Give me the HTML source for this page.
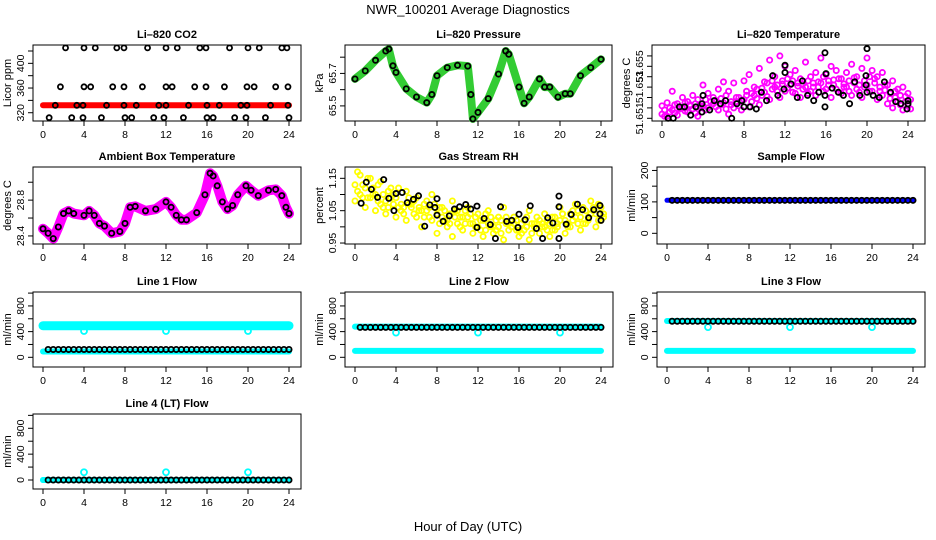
<!DOCTYPE html>
<html><head><meta charset="utf-8"><style>
html,body{margin:0;padding:0;background:#fff;}
svg{display:block;font-family:"Liberation Sans",sans-serif;}
</style></head><body>
<svg id="chart" width="936" height="540" viewBox="0 0 936 540" xmlns="http://www.w3.org/2000/svg">
<text x="468" y="14" text-anchor="middle" font-size="13">NWR_100201  Average Diagnostics</text>
<text x="468" y="531" text-anchor="middle" font-size="13">Hour of Day (UTC)</text>
</svg>
<script>
// ---------- data ----------
const xTicks = [0,4,8,12,16,20,24];
// CO2
const co2Band = 332;
const co2T425 = [2.2,4,5.1,7.2,7.9,10.2,12,13.1,15.3,15.9,18.2,20,21.1,23.3,23.8];
const co2T362 = [1.7,4,4.65,6.8,7.9,9.7,12,12.6,14.8,15.9,17.7,19.9,20.6,22.7,23.9];
const co2T332 = [1.2,3.3,3.9,6.2,7.9,9.1,11.3,12,14.2,16,17.2,19.3,19.9,22.2,23.9];
const co2T312 = [0.6,2.8,3.9,5.7,8,8.65,10.8,11.8,13.7,16,16.6,18.7,19.8,21.7,24];
const co2Levels = [425,362,332,312];
// Pressure
const presT = [0,1,2,3,3.3,3.7,4,5,6,7,7.5,8,9,10,11,11.3,11.5,12,13,14,14.7,15,16,16.5,17,18,18.5,19,19.8,20.5,21,22,23,24];
const presV = [65.666,65.716,65.781,65.838,65.85,65.747,65.706,65.605,65.555,65.52,65.57,65.686,65.736,65.75,65.745,65.57,65.42,65.46,65.545,65.696,65.838,65.818,65.616,65.516,65.555,65.666,65.616,65.616,65.555,65.575,65.575,65.686,65.736,65.787];
// Li-820 temperature (tick units)
const tempGridT = [0,0.5,1,1.5,2,2.5,3,3.5,4,4.5,5,5.5,6,6.5,7,7.5,8,8.5,9,9.5,10,10.5,11,11.5,12,12.5,13,13.5,14,14.5,15,15.5,16,16.5,17,17.5,18,18.5,19,19.5,20,20.5,21,21.5,22,22.5,23,23.5,24];
const tempMagA = [1.2,1.5,2.6,1.4,2.0,1.6,2.2,1.8,3.2,2.4,2.0,2.8,3.5,2.6,3.4,2.0,3.6,4.2,3.0,4.8,3.5,5.6,4.0,6.0,5.0,4.2,4.6,3.8,5.4,4.0,4.4,5.8,4.2,5.0,4.6,3.8,4.4,5.2,4.0,4.8,5.8,4.6,4.0,4.4,3.2,3.6,2.8,3.0,2.4];
const tempMagB = [0.4,0.2,0.8,0.3,1.0,0.6,0.9,0.2,1.2,1.0,1.4,0.8,1.5,0.4,1.0,1.2,1.8,1.1,2.2,1.3,2.5,1.8,3.0,2.0,2.6,3.2,2.4,2.0,3.0,2.6,2.2,3.4,2.8,2.0,2.8,2.4,3.0,2.2,2.8,2.0,3.2,2.6,1.8,2.2,1.4,1.0,1.6,0.8,1.2];
const tempMagC = [0.8,1.0,1.3,0.9,1.5,1.2,1.4,1.0,1.8,1.6,1.7,1.3,2.2,1.6,2.0,1.7,2.6,2.4,2.8,2.2,3.4,2.8,3.2,3.6,3.8,3.6,3.4,2.8,3.6,3.4,3.0,4.0,3.6,3.2,3.8,3.0,3.6,3.4,3.2,3.0,4.0,3.8,3.0,3.2,2.4,2.0,2.2,1.6,1.8];
const tempMagD = [0.2,0.6,0.5,1.1,0.7,1.3,0.5,1.2,0.8,1.6,1.1,1.9,0.9,1.3,1.6,0.8,2.2,1.6,1.9,2.9,2.1,3.6,2.6,3.3,2.9,2.5,3.1,3.3,2.4,3.0,3.5,2.6,3.2,3.7,2.5,3.3,2.6,3.9,2.5,3.6,2.6,3.4,2.6,2.7,1.9,2.6,1.3,2.1,0.9];
const tempBlkT = [0.6,1.1,1.7,2.2,2.8,3.3,3.9,4,3.9,4.65,5.1,5.7,6.2,6.8,7.3,7.8,8,8.6,9.2,9.7,10.2,10.8,11.3,11.9,12,12,12.6,13.2,13.7,14.2,14.8,15.3,15.9,15.9,15.9,16,16.6,17.2,17.7,18.3,18.8,19.3,19.9,19.9,20,20,20.6,21.2,21.7,22.3,22.8,23.3,23.9,24,24];
const tempBlkV = [0,0,1.1,1.1,0.3,1.1,1.4,2.2,0.6,0.8,1.7,1.4,1.7,0,1.4,1.7,1.1,1.1,0.9,2.5,1.7,4.1,2.2,2.8,5.1,4.4,3.3,2.0,3.6,2.2,1.7,2.5,1.1,2.2,6.3,4.3,2.9,2.5,2.2,1.4,3.5,2.2,4.1,3.2,6.7,2.5,2.2,2.0,3.5,2.5,1.6,1.4,0.9,1.7,1.4];
const tempTickLabels = ["51.651","","","51.653","","51.655",""];
// Ambient box temperature
const ambT = [0,0.5,1,1.5,2,2.5,3,4,4.5,5,5.5,6,6.7,7.5,8,8.5,9,10,11,12,12.5,13,13.5,14,15,15.8,16.3,16.6,17,17.5,18,18.5,19,19.8,20.3,21,22,22.7,23.3,23.7,24];
const ambV = [28.48,28.43,28.37,28.5,28.65,28.68,28.65,28.63,28.68,28.63,28.54,28.51,28.43,28.45,28.54,28.72,28.73,28.68,28.7,28.78,28.72,28.63,28.58,28.58,28.66,28.86,29.10,29.07,28.96,28.78,28.70,28.74,28.86,28.96,28.91,28.85,28.91,28.92,28.85,28.72,28.65];
// Gas stream RH
const rhYelA = [1.13,1.16,1.12,1.15,1.10,1.14,1.08,1.12,1.09,1.07,1.11,1.06,1.09,1.05,1.08,1.10,1.04,1.06,1.02,1.08,1.05,1.03,1.06,1.01,1.04,1.02,1.05,1.00,1.03,1.06,1.01,1.03,0.99,1.02,1.05,1.00,1.02,1.04,1.01,1.03,1.06,1.02,1.04,1.07,1.03,1.05,1.08,1.04,1.06];
const rhYelB = [1.08,1.10,1.06,1.09,1.05,1.07,1.04,1.09,1.03,1.05,1.02,1.07,1.03,1.00,1.05,1.02,0.98,1.03,1.00,0.97,1.01,0.99,1.03,0.98,1.00,0.97,1.01,0.98,1.00,0.96,0.99,1.01,0.97,0.99,0.96,1.01,0.98,1.00,0.97,0.99,1.02,0.98,1.00,1.03,0.99,1.01,1.04,1.00,1.02];
const rhYelC = [1.11,1.13,1.09,1.12,1.08,1.10,1.06,1.10,1.06,1.06,1.07,1.04,1.06,1.03,1.06,1.06,1.01,1.05,1.01,1.03,1.03,1.01,1.04,1.00,1.02,0.99,1.03,0.99,1.02,1.01,1.00,1.02,0.98,1.00,1.01,1.01,1.00,1.02,0.99,1.01,1.04,1.00,1.02,1.05,1.01,1.03,1.06,1.02,1.04];
const rhYelD = [1.17,1.09,1.15,1.10,1.13,1.06,1.11,1.07,1.12,1.04,1.09,1.08,1.05,1.07,1.03,1.07,1.06,1.02,1.04,1.05,1.00,1.05,1.01,1.03,0.99,1.04,1.00,1.02,0.98,1.03,1.02,0.99,1.01,1.03,0.98,1.03,1.01,0.99,1.03,1.00,1.04,1.01,1.05,1.01,1.06,1.02,1.05,1.07,1.03];
const rhBlkT = [0.6,1.1,1.6,2.2,2.8,3.3,3.8,4,4.6,5.1,5.7,6.2,6.8,7.3,7.8,8,8,8.6,9.2,9.7,10.2,10.8,11.3,11.9,11.9,12.6,13.2,13.7,14.2,14.8,15.3,15.9,16,16.6,17.1,17.7,18.3,18.8,19.3,19.9,19.9,19.9,20.6,21.1,21.7,22.2,22.8,23.3,23.9,23.9,24];
const rhBlkV = [1.073,1.138,1.116,1.091,1.146,1.088,1.05,1.103,1.106,1.075,1.085,1.096,1.002,1.068,1.06,1.087,1.036,1.017,1.034,1.055,1.062,1.069,1.055,1.064,0.998,1.026,1.007,0.964,1.062,1.017,1.02,0.998,1.039,1.022,1.065,0.995,0.964,1.028,1.012,1.095,1.062,0.964,1.008,1.038,1.07,1.053,1.028,1.053,1.066,1.04,1.02];
// Flows
const sampleLevel = [105];
const flowDipT = [4,12,20];
const line1Levels = {cyanHigh:492, cyanLow:90, black:122, dip:410};
const line2Levels = {cyanHigh:478, cyanLow:100, black:466, dip:385};
const line3Levels = {cyanHigh:565, cyanLow:100, black:562, dip:470};
const line4Levels = {cyanHigh:0, cyanLow:0, black:0, dip:120};

// ---------- drawing ----------
const svg = document.getElementById('chart');
const NS = 'http://www.w3.org/2000/svg';
function mk(tag, attrs, parent){ const e=document.createElementNS(NS,tag); for(const k in attrs) e.setAttribute(k,attrs[k]); (parent||svg).appendChild(e); return e; }

function makePanel(p){
  const g = mk('g',{});
  
  
  const x0 = p.left + 10, pxh = 10.25;
  p.x = t => x0 + t*pxh;
  p.y = v => p.bottom - (v - p.dmin)/(p.dmax - p.dmin)*(p.bottom - p.top);
  p.g = g;
  const title = mk('text',{x:(p.left+p.right)/2,y:p.top-7,'text-anchor':'middle','font-size':11,'font-weight':'bold'},g);
  title.textContent = p.title;
  
  
  const box = mk('rect',{x:p.left,y:p.top,width:p.right-p.left,height:p.bottom-p.top,fill:'none',stroke:'#000','stroke-width':1},g);
  
  
  const xa = mk('g',{},g);
  
  
  mk('line',{x1:p.x(0),x2:p.x(24),y1:p.bottom,y2:p.bottom,stroke:'#000'},xa);
  xTicks.forEach(t=>{
    mk('line',{x1:p.x(t),x2:p.x(t),y1:p.bottom,y2:p.bottom+5,stroke:'#000'},xa);
    const tl = mk('text',{x:p.x(t),y:p.bottom+17,'text-anchor':'middle','font-size':10.5},xa);
    tl.textContent = t;
    
    
  });
  const ya = mk('g',{},g);
  
  
  mk('line',{x1:p.left,x2:p.left,y1:p.y(p.yticks[0]),y2:p.y(p.yticks[p.yticks.length-1]),stroke:'#000'},ya);
  p.yticks.forEach((v,i)=>{
    const yy = p.y(v);
    mk('line',{x1:p.left-5,x2:p.left,y1:yy,y2:yy,stroke:'#000'},ya);
    const lab = p.ylabels[i];
    if(lab){
      const tx = p.left-9;
      const tl = mk('text',{x:tx,y:yy,'text-anchor':'middle','font-size':10.5,transform:`rotate(-90 ${tx} ${yy})`},ya);
      tl.textContent = lab;
      
      
    }
  });
  const tx = p.left-22, ty=(p.top+p.bottom)/2;
  const yt = mk('text',{x:tx,y:ty,'text-anchor':'middle','font-size':11,transform:`rotate(-90 ${tx} ${ty})`},g);
  yt.textContent = p.ytitle;
  
  
  return p;
}
function pts(p, ts, vs, color, r, sw, name){
  ts.forEach((t,i)=>{
    const c = mk('circle',{cx:p.x(t),cy:p.y(vs[i]),r:r||2.6,fill:'none',stroke:color,'stroke-width':sw||1.8},p.g);
    
    
  });
}
function band(p, ts, vs, color, w, name){
  const d = ts.map((t,i)=>(i?'L':'M')+p.x(t).toFixed(1)+' '+p.y(vs[i]).toFixed(1)).join(' ');
  const e = mk('path',{d:d,fill:'none',stroke:color,'stroke-width':w,'stroke-linejoin':'round','stroke-linecap':'round'},p.g);
  
  
}
function halfHours(){ return tempGridT.slice(1); }

// Row 1
const co2 = makePanel({name:'panel-li820-co2',title:'Li\u2013820 CO2',left:33,right:301,top:45,bottom:121,dmin:306.6,dmax:429.7,yticks:[320,340,360,380,400,420],ylabels:['320','','360','','400',''],ytitle:'Licor ppm'});
band(co2,[0,24],[co2Band,co2Band],'#ff0000',6,'co2-series-band');
[co2T425,co2T362,co2T332,co2T312].forEach((ts,k)=>pts(co2,ts,ts.map(()=>co2Levels[k]),'#000',2.5,1.8,'co2-point'));

const pres = makePanel({name:'panel-li820-pressure',title:'Li\u2013820 Pressure',left:345,right:612,top:45,bottom:121,dmin:65.407,dmax:65.875,yticks:[65.5,65.6,65.7,65.8],ylabels:['65.5','','65.7',''],ytitle:'kPa'});
band(pres,presT,presV,'#33cc33',8,'pressure-band');
pts(pres,presT,presV,'#000',2.6,1.8,'pressure-point');

const temp = makePanel({name:'panel-li820-temperature',title:'Li\u2013820 Temperature',left:652,right:925,top:45,bottom:121,dmin:-0.26,dmax:7.05,yticks:[0,1,2,3,4,5,6],ylabels:tempTickLabels,ytitle:'degrees C'});
pts(temp,tempGridT,tempMagA,'#ff00ff',2.6,1.8,'temperature-scatter');
pts(temp,tempGridT,tempMagB,'#ff00ff',2.6,1.8,'temperature-scatter');
pts(temp,tempGridT.map(t=>t+0.25),tempMagC,'#ff00ff',2.6,1.8,'temperature-scatter');
pts(temp,tempGridT.map(t=>t+0.25),tempMagD,'#ff00ff',2.6,1.8,'temperature-scatter');
pts(temp,tempBlkT,tempBlkV,'#000',2.6,1.8,'temperature-point');

// Row 2
const amb = makePanel({name:'panel-ambient-box-temperature',title:'Ambient Box Temperature',left:33,right:301,top:167,bottom:244,dmin:28.31,dmax:29.17,yticks:[28.4,28.6,28.8,29.0],ylabels:['28.4','','28.8',''],ytitle:'degrees C'});
band(amb,ambT,ambV,'#ff00ff',10,'ambient-band');
pts(amb,ambT,ambV,'#000',2.6,1.8,'ambient-point');

const rh = makePanel({name:'panel-gas-stream-rh',title:'Gas Stream RH',left:345,right:612,top:167,bottom:244,dmin:0.947,dmax:1.185,yticks:[0.95,1.0,1.05,1.1,1.15],ylabels:['0.95','','1.05','','1.15'],ytitle:'percent'});
pts(rh,tempGridT,rhYelA,'#ffff00',2.6,1.8,'rh-scatter');
pts(rh,tempGridT,rhYelB,'#ffff00',2.6,1.8,'rh-scatter');
pts(rh,tempGridT.map(t=>t+0.25),rhYelC,'#ffff00',2.6,1.8,'rh-scatter');
pts(rh,tempGridT.map(t=>t+0.25),rhYelD,'#ffff00',2.6,1.8,'rh-scatter');
pts(rh,rhBlkT,rhBlkV,'#000',2.6,1.8,'rh-point');

const samp = makePanel({name:'panel-sample-flow',title:'Sample Flow',left:657,right:925,top:167,bottom:244,dmin:-34,dmax:211,yticks:[0,50,100,150,200],ylabels:['0','','100','','200'],ytitle:'ml/min'});
band(samp,[0,24],[sampleLevel[0],sampleLevel[0]],'#0000ff',5,'sample-flow-band');
pts(samp,halfHours(),halfHours().map(()=>sampleLevel[0]),'#000',2.6,1.8,'sample-flow-point');

// Rows 3-4 flows
function flowPanel(name,title,left,top,bottom,lv,dmin,dmax,hiW){
  const p = makePanel({name:name,title:title,left:left,right:left+268,top:top,bottom:bottom,dmin:dmin,dmax:dmax,yticks:[0,200,400,600,800,1000],ylabels:['0','','400','','800',''],ytitle:'ml/min'});
  band(p,[0,24],[lv.cyanHigh,lv.cyanHigh],'#00ffff',hiW,'cyan-high-band');
  band(p,[0,24],[lv.cyanLow,lv.cyanLow],'#00ffff',6,'cyan-low-band');
  pts(p,flowDipT,flowDipT.map(()=>lv.dip),'#00ffff',3,1.8,'cyan-dip-point');
  pts(p,halfHours(),halfHours().map(()=>lv.black),'#000',2.6,1.8,'black-flow-point');
  return p;
}
flowPanel('panel-line1-flow','Line 1 Flow',33,292,367,line1Levels,-151,1017,9);
flowPanel('panel-line2-flow','Line 2 Flow',345,292,367,line2Levels,-151,1017,6);
flowPanel('panel-line3-flow','Line 3 Flow',657,292,367,line3Levels,-151,1017,6);
flowPanel('panel-line4-flow','Line 4 (LT) Flow',33,414,489,line4Levels,-139,1021,6);
</script>
</body></html>
